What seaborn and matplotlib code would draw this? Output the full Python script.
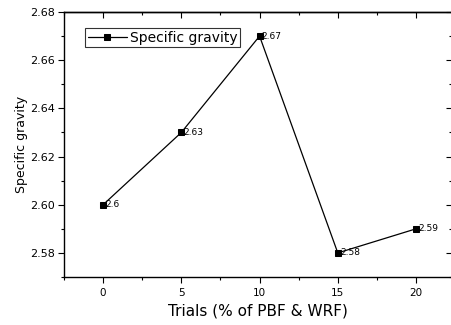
import matplotlib
matplotlib.use("Agg")
import matplotlib.pyplot as plt
import seaborn as sns
import pandas as pd
from matplotlib.ticker import MultipleLocator, FormatStrFormatter, NullFormatter

trials = [0, 5, 10, 15, 20]
specific_gravity = [2.60, 2.63, 2.67, 2.58, 2.59]
point_labels = ["2.6", "2.63", "2.67", "2.58", "2.59"]
x_label = "Trials (% of PBF & WRF)"
y_label = "Specific gravity"
series_name = "Specific gravity"

sns.set_style("ticks")
plt.rcParams['font.family'] = ['DejaVu Sans']
plt.rcParams.update({"text.color": "black", "axes.labelcolor": "black",
                     "xtick.color": "black", "ytick.color": "black",
                     "axes.edgecolor": "black"})

df = pd.DataFrame({"Trials": trials, "SG": specific_gravity})

fig = plt.figure(figsize=(4.52, 3.25), dpi=100)
ax = fig.add_axes([64/452, 48/325, (452-64)/452, 265/325])

sns.lineplot(data=df, x="Trials", y="SG", ax=ax, color="black", linewidth=0.9,
             marker="s", markersize=4, markeredgecolor="black", markerfacecolor="black",
             label=series_name)

for x, y, t in zip(trials, specific_gravity, point_labels):
    ax.annotate(t, (x, y), xytext=(1.5, 0), textcoords="offset points",
                fontsize=6.5, va="center", ha="left", color="black")

ax.set_xlim(-2.5, 22.3)
ax.set_ylim(2.57, 2.68)
ax.xaxis.set_major_locator(MultipleLocator(5))
ax.xaxis.set_minor_locator(MultipleLocator(2.5))
ax.yaxis.set_major_locator(MultipleLocator(0.02))
ax.yaxis.set_minor_locator(MultipleLocator(0.01))
ax.yaxis.set_major_formatter(FormatStrFormatter("%.2f"))

ax.tick_params(axis="x", which="major", labelsize=7.5, length=4, width=0.8, direction="out", pad=4)
ax.tick_params(axis="y", which="major", labelsize=8, length=4.3, width=0.8, direction="out", pad=2)
ax.tick_params(axis="both", which="minor", length=2.2, width=0.8, direction="out")
for s in ax.spines.values():
    s.set_linewidth(1.0)
    s.set_color("black")
ax.spines["right"].set_visible(False)

secx = ax.secondary_xaxis("top")
secx.xaxis.set_major_locator(MultipleLocator(5))
secx.xaxis.set_minor_locator(MultipleLocator(2.5))
secx.xaxis.set_major_formatter(NullFormatter())
secx.tick_params(axis="x", which="major", direction="in", length=4, width=0.8, color="black")
secx.tick_params(axis="x", which="minor", direction="in", length=2.2, width=0.8, color="black")
for s in secx.spines.values():
    s.set_linewidth(1.0)
    s.set_color("black")

secy = ax.secondary_yaxis("right")
secy.yaxis.set_major_locator(MultipleLocator(0.02))
secy.yaxis.set_minor_locator(MultipleLocator(0.01))
secy.yaxis.set_major_formatter(NullFormatter())
secy.tick_params(axis="y", which="major", direction="in", length=4, width=0.8, color="black")
secy.tick_params(axis="y", which="minor", direction="in", length=2.2, width=0.8, color="black")
for s in secy.spines.values():
    s.set_visible(False)

ax.set_xlabel(x_label, fontsize=11, labelpad=4)
ax.set_ylabel(y_label, fontsize=9, labelpad=2)

leg = ax.legend(loc="upper left", bbox_to_anchor=(0.054, 0.94), fontsize=10,
                frameon=True, fancybox=False, edgecolor="black", handlelength=2.8,
                borderpad=0.2, handletextpad=0.25, borderaxespad=0, markerscale=1.2)
leg.get_frame().set_linewidth(0.8)

fig.savefig("out.png", dpi=100)
